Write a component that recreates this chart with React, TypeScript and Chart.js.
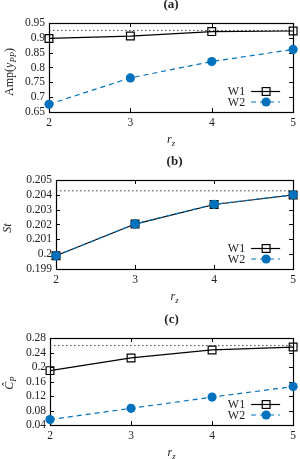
import React, { useEffect, useRef } from "react";
import { Chart, registerables } from "chart.js";

Chart.register(...registerables);

// ---------- data ----------
const rz = [2, 3, 4, 5];
const seriesNames = ["W1", "W2"];
const panelTitles = ["(a)", "(b)", "(c)"];

const ampW1 = [0.898, 0.906, 0.921, 0.923];
const ampW2 = [0.676, 0.765, 0.82, 0.861];
const ampRef = 0.925;

const stW1 = [0.19989, 0.20203, 0.20335, 0.20399];
const stW2 = [0.19989, 0.20204, 0.20336, 0.204];
const stRef = 0.20427;

const cpW1 = [0.19, 0.225, 0.247, 0.255];
const cpW2 = [0.055, 0.086, 0.117, 0.146];
const cpRef = 0.259;

const ampRange = [0.65, 0.95, 0.05];
const stRange = [0.199, 0.205, 0.001];
const cpRange = [0.04, 0.28, 0.04];

// ---------- styling ----------
const FONT = '"Liberation Serif", "Times New Roman", serif';
const BLUE = "#0072bd";
const TEXT = "#222";

type Part = { t: string; italic?: boolean; sub?: boolean; bold?: boolean };

type PanelCfg = {
  title: string;
  yTitle: Part[];
  w1: number[];
  w2: number[];
  ref: number;
  range: number[];
  height: number;
  top: number;
  bottom: number;
  left: number;
  right: number;
  yTitleX: number;
  yTitleY: number;
};

const panels: PanelCfg[] = [
  {
    title: panelTitles[0],
    yTitle: [{ t: "Amp(" }, { t: "y", italic: true }, { t: "PP", italic: true, sub: true }, { t: ")" }],
    w1: ampW1,
    w2: ampW2,
    ref: ampRef,
    range: ampRange,
    height: 150,
    top: 23,
    bottom: 112,
    left: 49,
    right: 295,
    yTitleX: 10,
    yTitleY: 72,
  },
  {
    title: panelTitles[1],
    yTitle: [{ t: "St", italic: true }],
    w1: stW1,
    w2: stW2,
    ref: stRef,
    range: stRange,
    height: 155,
    top: 30,
    bottom: 119,
    left: 56,
    right: 295,
    yTitleX: 8,
    yTitleY: 78,
  },
  {
    title: panelTitles[2],
    yTitle: [{ t: "Ĉ", italic: true }, { t: "P", italic: true, sub: true }],
    w1: cpW1,
    w2: cpW2,
    ref: cpRef,
    range: cpRange,
    height: 154,
    top: 33,
    bottom: 120,
    left: 50,
    right: 295,
    yTitleX: 10,
    yTitleY: 78,
  },
];

function fontOf(p: Part, size: number) {
  const s = p.sub ? size * 0.72 : size;
  return `${p.italic ? "italic " : ""}${p.bold ? "bold " : ""}${s}px ${FONT}`;
}

function drawRich(ctx: CanvasRenderingContext2D, parts: Part[], x: number, y: number, size: number, rotate: boolean) {
  ctx.save();
  ctx.translate(x, y);
  if (rotate) ctx.rotate(-Math.PI / 2);
  let total = 0;
  const widths = parts.map((p) => {
    ctx.font = fontOf(p, size);
    const w = ctx.measureText(p.t).width;
    total += w;
    return w;
  });
  let cx = -total / 2;
  ctx.textBaseline = "middle";
  ctx.textAlign = "left";
  ctx.fillStyle = TEXT;
  parts.forEach((p, i) => {
    ctx.font = fontOf(p, size);
    ctx.fillText(p.t, cx, p.sub ? size * 0.3 : 0);
    cx += widths[i];
  });
  ctx.restore();
}

function makePlugin(cfg: PanelCfg) {
  return {
    id: "deco",
    beforeDatasetsDraw(chart: any) {
      const { ctx, chartArea: a, scales } = chart;
      ctx.save();
      ctx.strokeStyle = "#000";
      ctx.lineWidth = 1;
      ctx.beginPath();
      scales.y.ticks.forEach((t: any) => {
        const y = Math.round(scales.y.getPixelForValue(t.value)) + 0.5;
        ctx.moveTo(a.left, y);
        ctx.lineTo(a.left + 4, y);
        ctx.moveTo(a.right, y);
        ctx.lineTo(a.right - 4, y);
      });
      scales.x.ticks.forEach((t: any) => {
        const x = Math.round(scales.x.getPixelForValue(t.value)) + 0.5;
        ctx.moveTo(x, a.top);
        ctx.lineTo(x, a.top + 4);
        ctx.moveTo(x, a.bottom);
        ctx.lineTo(x, a.bottom - 4);
      });
      ctx.stroke();
      ctx.lineWidth = 1.2;
      ctx.strokeRect(Math.round(a.left) + 0.5, Math.round(a.top) + 0.5, Math.round(a.right - a.left), Math.round(a.bottom - a.top));
      ctx.restore();
    },
    afterDraw(chart: any) {
      const { ctx, chartArea: a } = chart;
      const cx = (a.left + a.right) / 2;
      // title
      drawRich(ctx, [{ t: cfg.title, bold: true }], cx, a.top - 18, 13, false);
      // y title
      drawRich(ctx, cfg.yTitle, cfg.yTitleX, cfg.yTitleY, 12, true);
      // x title
      drawRich(ctx, [{ t: "r", italic: true }, { t: "z", italic: true, sub: true }], cx, a.bottom + 28, 12, false);
      // legend
      const rows = [a.bottom - 20.5, a.bottom - 10];
      seriesNames.forEach((name, i) => {
        const y = rows[i];
        ctx.save();
        ctx.font = `12px ${FONT}`;
        ctx.fillStyle = TEXT;
        ctx.textAlign = "right";
        ctx.textBaseline = "middle";
        ctx.fillText(name, a.right - 48, y + 0.5);
        const x0 = a.right - 42;
        const x1 = a.right - 13;
        const mx = a.right - 27;
        ctx.lineWidth = 1.2;
        if (i === 0) {
          ctx.strokeStyle = "#000";
          ctx.beginPath();
          ctx.moveTo(x0, y);
          ctx.lineTo(x1, y);
          ctx.stroke();
          ctx.strokeRect(mx - 3.9, y - 3.9, 7.8, 7.8);
        } else {
          ctx.strokeStyle = BLUE;
          ctx.setLineDash([5, 4]);
          ctx.beginPath();
          ctx.moveTo(x0, y);
          ctx.lineTo(x1, y);
          ctx.stroke();
          ctx.setLineDash([]);
          ctx.fillStyle = BLUE;
          ctx.beginPath();
          ctx.arc(mx, y, 4.6, 0, Math.PI * 2);
          ctx.fill();
        }
        ctx.restore();
      });
    },
  };
}

function Panel({ cfg }: { cfg: PanelCfg }) {
  const ref = useRef<HTMLCanvasElement | null>(null);
  useEffect(() => {
    if (!ref.current) return;
    const [ymin, ymax, ystep] = cfg.range;
    const chart = new Chart(ref.current, {
      type: "line",
      data: {
        datasets: [
          {
            label: seriesNames[0],
            data: rz.map((x, i) => ({ x, y: cfg.w1[i] })),
            borderColor: "#000",
            borderWidth: 1.2,
            pointStyle: "rect",
            pointRadius: 5.5,
            pointBorderWidth: 1.2,
            pointBorderColor: "#000",
            pointBackgroundColor: "rgba(0,0,0,0)",
            order: 2,
            clip: false,
          },
          {
            label: seriesNames[1],
            data: rz.map((x, i) => ({ x, y: cfg.w2[i] })),
            borderColor: BLUE,
            borderWidth: 1.2,
            borderDash: [5, 4],
            pointStyle: "circle",
            pointRadius: 4.6,
            pointBorderWidth: 0,
            pointBackgroundColor: BLUE,
            order: 1,
            clip: false,
          },
          {
            label: "ref",
            data: [
              { x: rz[0], y: cfg.ref },
              { x: rz[rz.length - 1], y: cfg.ref },
            ],
            borderColor: "#444",
            borderWidth: 1,
            borderDash: [1.5, 2.5],
            pointRadius: 0,
            order: 3,
          },
        ],
      } as any,
      options: {
        animation: false,
        responsive: false,
        devicePixelRatio: 1,
        layout: { padding: { top: cfg.top, right: 300 - cfg.right, left: 0, bottom: 0 } },
        plugins: { legend: { display: false }, tooltip: { enabled: false }, title: { display: false } },
        scales: {
          x: {
            type: "linear",
            min: rz[0],
            max: rz[rz.length - 1],
            grid: { display: false, drawTicks: false },
            border: { display: false },
            ticks: {
              stepSize: 1,
              padding: 4,
              autoSkip: false,
              color: TEXT,
              font: { family: FONT, size: 11.5 },
              maxRotation: 0,
              callback: (v: any) => String(v),
            },
            afterFit: (s: any) => {
              s.height = cfg.height - cfg.bottom;
            },
          },
          y: {
            type: "linear",
            min: ymin,
            max: ymax,
            grid: { display: false, drawTicks: false },
            border: { display: false },
            ticks: {
              stepSize: ystep,
              padding: 4,
              autoSkip: false,
              color: TEXT,
              font: { family: FONT, size: 11.5 },
              callback: (v: any) => String(parseFloat(Number(v).toFixed(4))),
            },
            afterFit: (s: any) => {
              s.width = cfg.left;
            },
          },
        },
      } as any,
      plugins: [makePlugin(cfg)],
    });
    return () => chart.destroy();
  }, [cfg]);
  return (
    <div style={{ width: 300, height: cfg.height }}>
      <canvas ref={ref} width={300} height={cfg.height} style={{ display: "block", width: 300, height: cfg.height }} />
    </div>
  );
}

export default function App() {
  return (
    <div style={{ position: "absolute", top: 0, left: 0, width: 300, height: 459, background: "#fff" }}>
      {panels.map((p, i) => (
        <Panel key={i} cfg={p} />
      ))}
    </div>
  );
}
